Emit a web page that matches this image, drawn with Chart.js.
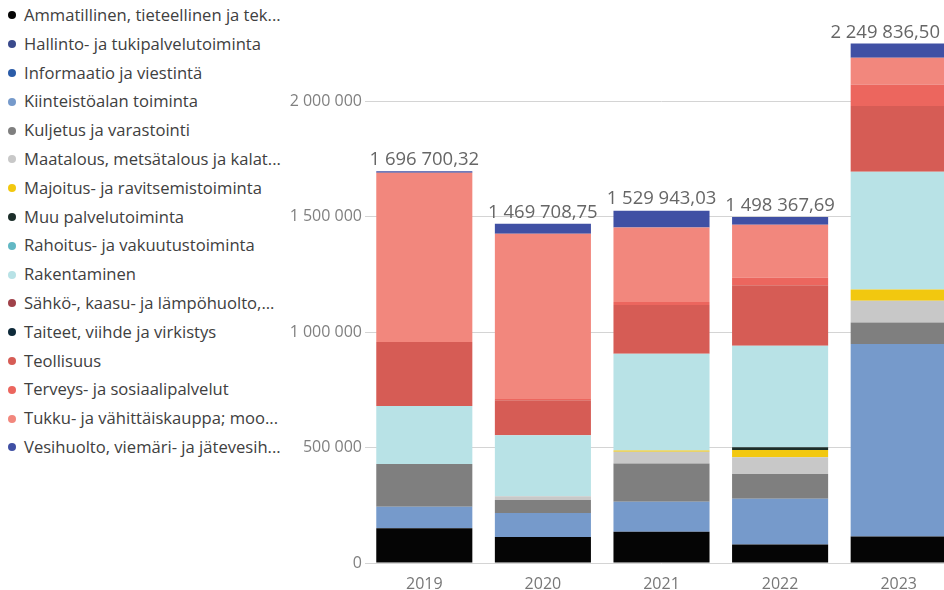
<!DOCTYPE html>
<html>
<head>
<meta charset="utf-8">
<script src="https://cdn.jsdelivr.net/npm/chart.js@4"></script>
<style>
  html, body { margin: 0; padding: 0; background: #fff; overflow: hidden; }
  body { position: relative; width: 944px; height: 590px; }
  #legend {
    position: absolute; left: 0; top: 1px; width: 290px;
    margin: 0; padding: 0; list-style: none;
    font-family: "Open Sans", "Noto Sans", sans-serif; font-size: 16.6px; color: #404040;
  }
  #legend li { height: 28.8px; line-height: 28.8px; white-space: nowrap; position: relative; padding-left: 24px; }
  #legend li span {
    position: absolute; left: 8px; top: 10.4px; width: 8px; height: 8px; border-radius: 50%;
  }
  #wrap { position: absolute; left: 280px; top: 0; width: 678px; height: 590px; }
</style>
</head>
<body>
<ul id="legend"></ul>
<div id="wrap"><canvas id="chart"></canvas></div>
<script>
// Toimialat (legend order = stacking order, bottom first)
const years = ['2019', '2020', '2021', '2022', '2023'];
const totals = [1696700.32, 1469708.75, 1529943.03, 1498367.69, 2249836.50];
const yTicks = [0, 500000, 1000000, 1500000, 2000000];

const names = [
  'Ammatillinen, tieteellinen ja tek...',
  'Hallinto- ja tukipalvelutoiminta',
  'Informaatio ja viestintä',
  'Kiinteistöalan toiminta',
  'Kuljetus ja varastointi',
  'Maatalous, metsätalous ja kalat...',
  'Majoitus- ja ravitsemistoiminta',
  'Muu palvelutoiminta',
  'Rahoitus- ja vakuutustoiminta',
  'Rakentaminen',
  'Sähkö-, kaasu- ja lämpöhuolto,...',
  'Taiteet, viihde ja virkistys',
  'Teollisuus',
  'Terveys- ja sosiaalipalvelut',
  'Tukku- ja vähittäiskauppa; moo...',
  'Vesihuolto, viemäri- ja jätevesih...'
];
const colors = [
  '#050505', '#3a4a8c', '#2b5ca8', '#769acb', '#7f7f7f', '#c8c8c8',
  '#f2c80f', '#1c2e2a', '#62b8c4', '#b8e2e6', '#a0424a', '#0e2a3a',
  '#d65c55', '#ec665e', '#f2877d', '#4050a4'
];

// values per series, 2019..2023
const ammatillinen = [150000, 112500, 135500, 80500, 114700];
const hallinto     = [0, 0, 0, 0, 0];
const informaatio  = [0, 0, 0, 0, 0];
const kiinteisto   = [93500, 104000, 130000, 197400, 834400];
const kuljetus     = [185000, 56000, 166000, 107800, 92600];
const maatalous    = [0, 17000, 50000, 72700, 93900];
const majoitus     = [0, 0, 6000, 30700, 49400];
const muu          = [0, 0, 0, 12500, 0];
const rahoitus     = [0, 0, 0, 0, 0];
const rakentaminen = [251000, 264000, 418500, 439800, 509500];
const sahko        = [0, 0, 0, 0, 0];
const taiteet      = [0, 0, 0, 0, 0];
const teollisuus   = [278000, 151500, 212000, 262000, 285300];
const terveys      = [0, 5000, 12000, 32500, 92600];
const tukku        = [733200, 716400, 323700, 229400, 116000];
const vesihuolto   = [6000, 43300, 72300, 33000, 61500];

const series = [ammatillinen, hallinto, informaatio, kiinteisto, kuljetus, maatalous,
  majoitus, muu, rahoitus, rakentaminen, sahko, taiteet, teollisuus, terveys, tukku, vesihuolto];

function groupDigits(n) {
  return String(n).replace(/\B(?=(\d{3})+(?!\d))/g, ' ');
}
function fmtTotal(v) {
  const parts = v.toFixed(2).split('.');
  return groupDigits(parts[0]) + ',' + parts[1];
}

const FONT = '"Open Sans", "Noto Sans", sans-serif';
const VISIBLE_RIGHT = 664; // page is 944 wide, canvas starts at 280

// total value above each stack, kept inside the visible page
const totalLabels = {
  id: 'totalLabels',
  afterDatasetsDraw(chart) {
    const { ctx, scales: { x, y } } = chart;
    ctx.save();
    ctx.font = '18.5px ' + FONT;
    ctx.fillStyle = '#666666';
    ctx.textAlign = 'center';
    ctx.textBaseline = 'bottom';
    totals.forEach((t, i) => {
      const txt = fmtTotal(t);
      const w = ctx.measureText(txt).width;
      const cx = Math.min(x.getPixelForValue(i), VISIBLE_RIGHT - 4 - w / 2);
      ctx.fillText(txt, cx, y.getPixelForValue(t) - 2);
    });
    ctx.restore();
  }
};

// legend as html list, items from chart.js
const htmlLegend = {
  id: 'htmlLegend',
  afterUpdate(chart) {
    const ul = document.getElementById('legend');
    ul.innerHTML = '';
    const items = Chart.defaults.plugins.legend.labels.generateLabels(chart);
    items.forEach(item => {
      const li = document.createElement('li');
      const dot = document.createElement('span');
      dot.style.background = item.fillStyle;
      li.appendChild(dot);
      li.appendChild(document.createTextNode(item.text));
      ul.appendChild(li);
    });
  }
};

new Chart(document.getElementById('chart'), {
  type: 'bar',
  data: {
    labels: years,
    datasets: series.map((d, i) => ({
      label: names[i],
      data: d,
      backgroundColor: colors[i],
      borderWidth: 0,
      barPercentage: 0.9,
      categoryPercentage: 0.9
    }))
  },
  options: {
    responsive: true,
    maintainAspectRatio: false,
    animation: false,
    layout: { padding: { top: 32, left: 0, right: 0, bottom: 0 } },
    plugins: {
      legend: { display: false },
      tooltip: { enabled: false }
    },
    scales: {
      x: {
        stacked: true,
        grid: { display: false },
        border: { display: false },
        ticks: { color: '#777777', font: { family: FONT, size: 16 }, padding: 4 },
        afterFit(scale) { scale.height = 27; }
      },
      y: {
        stacked: true,
        min: 0,
        max: 2300000,
        border: { display: false },
        grid: { color: '#d4d4d4', drawTicks: false },
        afterBuildTicks(scale) { scale.ticks = yTicks.map(v => ({ value: v })); },
        afterFit(scale) { scale.width = 85; },
        ticks: {
          color: '#808080',
          font: { family: FONT, size: 16 },
          padding: 3,
          callback: v => groupDigits(v)
        }
      }
    }
  },
  plugins: [totalLabels, htmlLegend]
});
</script>
</body>
</html>
